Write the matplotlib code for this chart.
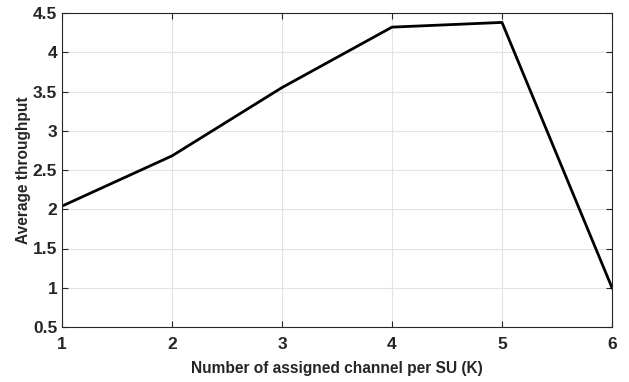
import matplotlib
matplotlib.use("Agg")
import matplotlib.pyplot as plt

K = [1, 2, 3, 4, 5, 6]
throughput = [2.04, 2.68, 3.55, 4.32, 4.38, 1.0]
xticks = [1, 2, 3, 4, 5, 6]
yticks = [0.5, 1, 1.5, 2, 2.5, 3, 3.5, 4, 4.5]

plt.rcParams['font.family'] = ['Liberation Sans', 'DejaVu Sans']
plt.rcParams['font.weight'] = 'bold'

fig = plt.figure(figsize=(6.29, 3.82), dpi=100)
ax = fig.add_axes([62/629, 1 - 327/382, (612-62)/629, (327-13)/382])
ax.plot(K, throughput, color='black', linewidth=2.0)
ax.set_xlim(1, 6)
ax.set_ylim(0.5, 4.5)
ax.set_xticks(xticks)
ax.set_yticks(yticks)
ax.set_yticklabels([f"{v:g}" for v in yticks])
ax.grid(True, color='#e3e3e3', linewidth=0.8)
ax.set_axisbelow(True)
for s in ax.spines.values():
    s.set_color('#262626')
    s.set_linewidth(0.8)
ax.tick_params(direction='in', top=True, right=True, length=4, width=0.8,
               colors='#262626', labelsize=12.5)
ax.tick_params(axis='x', pad=7)
ax.tick_params(axis='y', pad=3.5)
for lab in ax.get_xticklabels() + ax.get_yticklabels():
    lab.set_fontweight('bold')
ax.set_xlabel('Number of assigned channel per SU (K)', fontsize=11.2, fontweight='bold', color='#262626', labelpad=7)
ax.set_ylabel('Average throughput', fontsize=11.2, fontweight='bold', color='#262626', labelpad=1)
fig.savefig('out.png', dpi=100)
